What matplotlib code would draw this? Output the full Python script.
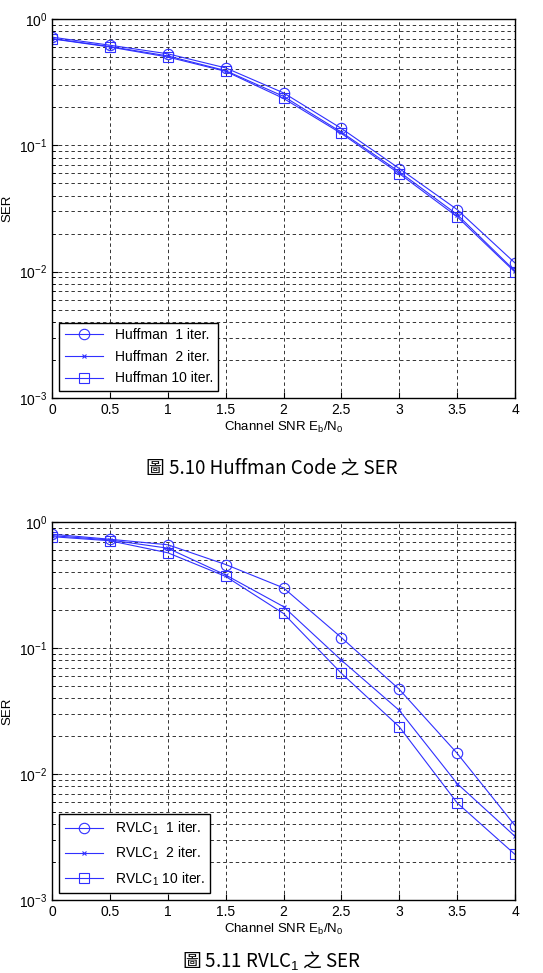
import numpy as np
import matplotlib
matplotlib.use("Agg")
import matplotlib.pyplot as plt
from matplotlib.ticker import FixedLocator, NullFormatter

plt.rcParams['font.family'] = ['Liberation Sans', 'DejaVu Sans']
plt.rcParams['mathtext.fontset'] = 'custom'
plt.rcParams['mathtext.rm'] = 'Liberation Sans'
plt.rcParams['mathtext.it'] = 'Liberation Sans'

snr = [0, 0.5, 1, 1.5, 2, 2.5, 3, 3.5, 4]

huff_1 = [0.718, 0.62, 0.53, 0.41, 0.26, 0.136, 0.0655, 0.031, 0.0117]
huff_2 = [0.70, 0.605, 0.51, 0.39, 0.244, 0.127, 0.0617, 0.0283, 0.0101]
huff_10 = [0.696, 0.60, 0.50, 0.385, 0.235, 0.124, 0.0597, 0.0272, 0.0099]

rvlc_1 = [0.80, 0.73, 0.66, 0.46, 0.30, 0.121, 0.047, 0.0146, 0.0039]
rvlc_2 = [0.78, 0.72, 0.62, 0.38, 0.213, 0.080, 0.032, 0.0084, 0.0032]
rvlc_10 = [0.765, 0.71, 0.57, 0.37, 0.188, 0.063, 0.0237, 0.0059, 0.0023]

huff_labels = ['Huffman  1 iter.', 'Huffman  2 iter.', 'Huffman 10 iter.']
rvlc_labels = ['RVLC$_1$  1 iter.', 'RVLC$_1$  2 iter.', 'RVLC$_1$ 10 iter.']
captions = ['圖 5.10 Huffman Code 之 SER', '圖 5.11 RVLC$_1$ 之 SER']

fig = plt.figure(figsize=(5.43, 9.73), dpi=100)
ax1 = fig.add_axes([0.0958, 0.5910, 0.8527, 0.3895])
ax2 = fig.add_axes([0.0958, 0.0750, 0.8527, 0.3885])


def draw(ax, series, labels):
    markers = ['o', 'x', 's']
    sizes = [7.5, 3.5, 7.5]
    for ys, lab, m, ms in zip(series, labels, markers, sizes):
        ax.semilogy(snr, ys, color='#3030ff', lw=0.8, marker=m, ms=ms,
                    mfc='none', mec='#3030ff', mew=0.8, label=lab)
    ax.set_xlim(0, 4)
    ax.set_ylim(1e-3, 1)
    ax.set_xticks(snr)
    ax.set_xticklabels(['0', '0.5', '1', '1.5', '2', '2.5', '3', '3.5', '4'])
    ax.yaxis.set_major_locator(FixedLocator([1e-3, 1e-2, 1e-1, 1]))
    ax.set_yticklabels(['$10^{-3}$', '$10^{-2}$', '$10^{-1}$', '$10^{0}$'])
    minors = [m * 10.0 ** e for e in (-3, -2, -1) for m in range(2, 10)]
    ax.yaxis.set_minor_locator(FixedLocator(minors))
    ax.yaxis.set_minor_formatter(NullFormatter())
    ax.grid(True, which='both', color='#333333', ls=(0, (3.5, 3)), lw=0.7)
    ax.tick_params(which='both', direction='in', labelsize=10, length=4)
    ax.tick_params(which='minor', length=2)
    for sp in ax.spines.values():
        sp.set_linewidth(1.0)
    ax.set_xlabel('Channel SNR E$_\\mathrm{b}$/N$_\\mathrm{0}$', fontsize=9.5, labelpad=2)
    ax.set_ylabel('SER', fontsize=9.5)
    ax.yaxis.set_label_coords(-0.083, 0.5)
    leg = ax.legend(loc='lower left', fontsize=10, fancybox=False,
                    edgecolor='black', framealpha=1, borderaxespad=0.5,
                    handlelength=2.8, labelspacing=0.55)
    leg.get_frame().set_linewidth(1.0)


draw(ax1, [huff_1, huff_2, huff_10], huff_labels)
draw(ax2, [rvlc_1, rvlc_2, rvlc_10], rvlc_labels)

fig.text(0.5, 0.519, captions[0], ha='center', va='center', fontsize=13.5,
         family=['Noto Sans CJK TC', 'DejaVu Sans'])
fig.text(0.5, 0.013, captions[1], ha='center', va='center', fontsize=13.5,
         family=['Noto Sans CJK TC', 'DejaVu Sans'])

fig.savefig('out.png', dpi=100)
